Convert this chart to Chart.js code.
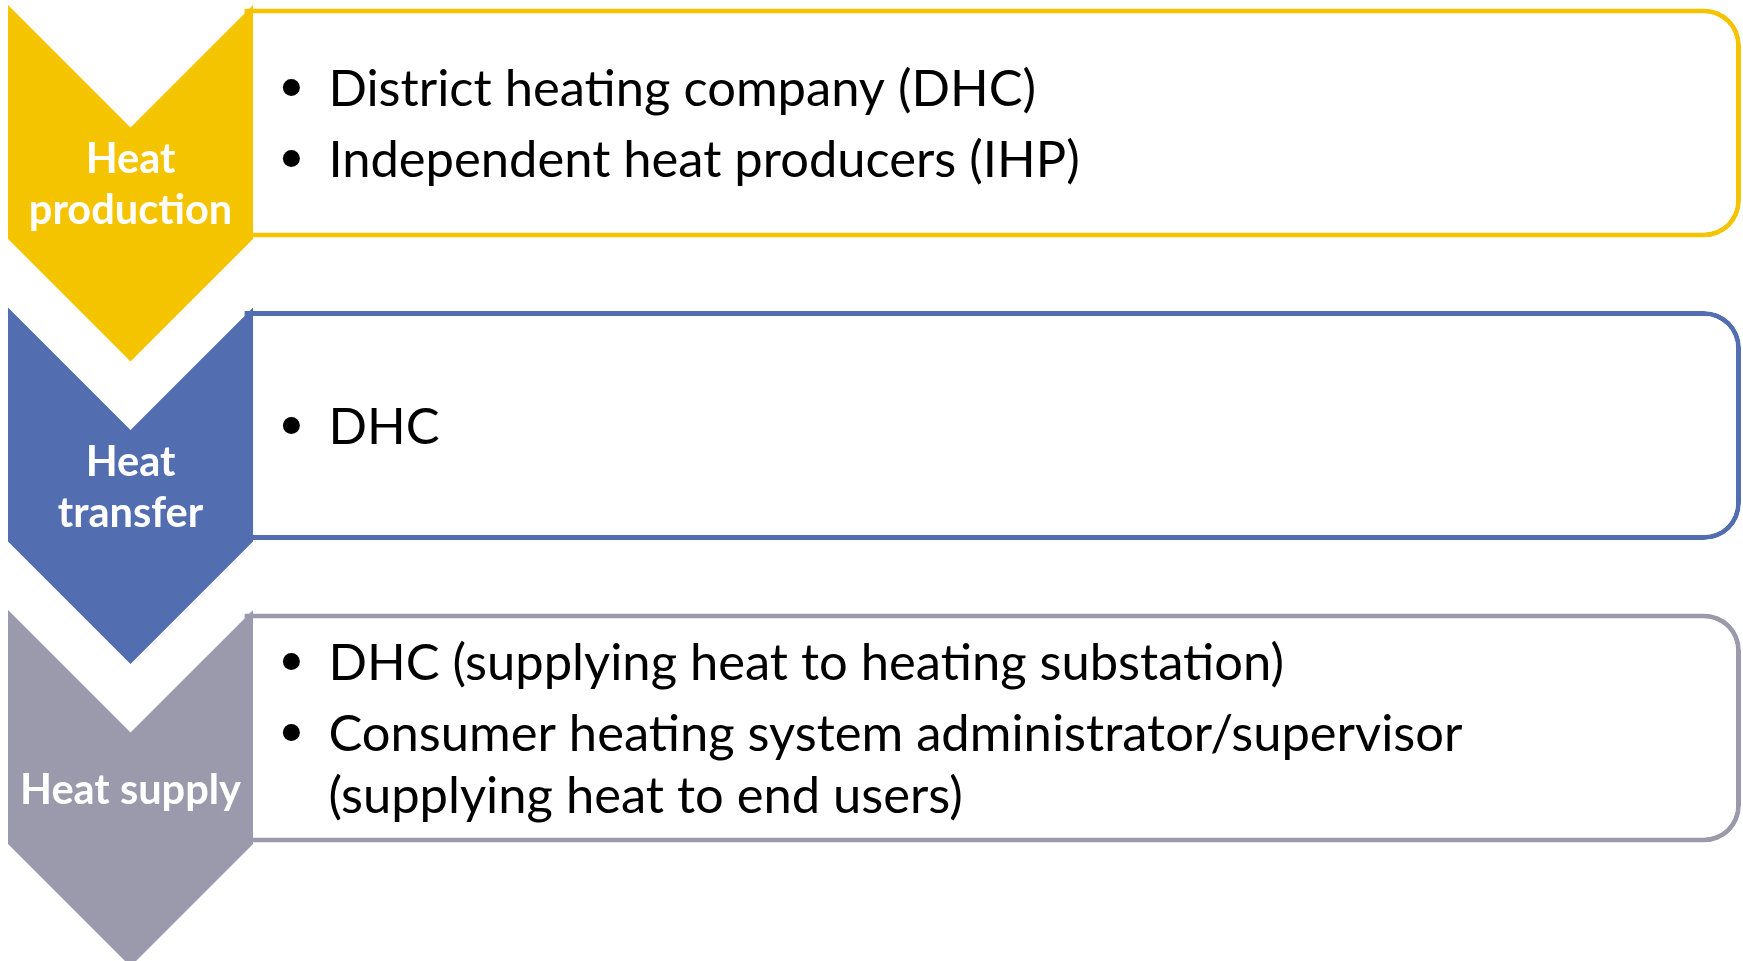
<!DOCTYPE html>
<html>
<head>
<meta charset="utf-8">
<script src="https://cdn.jsdelivr.net/npm/chart.js@4.4.1/dist/chart.umd.min.js"></script>
<style>
  html, body { margin: 0; padding: 0; background: #fff; }
  #wrap { width: 1743px; height: 961px; position: relative; }
</style>
</head>
<body>
<div id="wrap"><canvas id="flowChart"></canvas></div>
<script>
// stages of the heat chain, top to bottom
var stages = ['Heat production', 'Heat transfer', 'Heat supply'];
var stageLabelLines = [['Heat', 'production'], ['Heat', 'transfer'], ['Heat supply']];
var stageColors = ['#F5C400', '#536EB0', '#9A9AAC'];

// actors per stage (each item may wrap on several lines)
var actors = [
    [['District heating company (DHC)'], ['Independent heat producers (IHP)']],
    [['DHC']],
    [['DHC (supplying heat to heating substation)'],
     ['Consumer heating system administrator/supervisor', '(supplying heat to end users)']]
];

// layout (x runs 0..1 across the chart area, y is the stage index)
var CHEVRON_END = 0.1414;   // chevron column share of the width
var ROW_PX = 302.5;         // distance between stage rows
var FIRST_ROW_PX = 123;
var Y_MIN = -FIRST_ROW_PX / ROW_PX;
var Y_MAX = (961 - FIRST_ROW_PX) / ROW_PX;

function fitFont(ctx, weight, family, sample, targetW) {
    ctx.font = weight + ' 100px ' + family;
    var w = ctx.measureText(sample).width;
    return 100 * targetW / w;
}

function forceRange(scale) {
    scale.min = Y_MIN;
    scale.max = Y_MAX;
}

var diagramPlugin = {
    id: 'diagram',
    afterDatasetsDraw: function (chart) {
        var ctx = chart.ctx;
        var xs = chart.scales.x;
        var ys = chart.scales.y;
        var boxes = chart.getDatasetMeta(0).data;

        var left = xs.getPixelForValue(0);
        var right = xs.getPixelForValue(CHEVRON_END);
        var half = (right - left) / 2;
        var cx = left + half;

        var labelSize = fitFont(ctx, 'bold', 'Lato', 'Heat supply', 221);
        var bodySize = fitFont(ctx, 'normal', 'Lato', 'District heating company (DHC)', 708);

        ctx.save();
        stages.forEach(function (stage, i) {
            var r = ys.getPixelForValue(i);
            var top = r - 118;
            var bottom = r + 116;

            // chevron
            ctx.beginPath();
            ctx.moveTo(left, top);
            ctx.lineTo(cx, top + half);
            ctx.lineTo(right, top);
            ctx.lineTo(right, bottom);
            ctx.lineTo(cx, bottom + half);
            ctx.lineTo(left, bottom);
            ctx.closePath();
            ctx.fillStyle = stageColors[i];
            ctx.fill();

            // stage name inside chevron
            ctx.font = 'bold ' + labelSize + 'px Lato';
            ctx.fillStyle = '#ffffff';
            ctx.textAlign = 'center';
            ctx.textBaseline = 'alphabetic';
            var capL = ctx.measureText('H').actualBoundingBoxAscent;
            var lines = stageLabelLines[i];
            var lh = 51;
            var mid = ((top + half) + bottom) / 2;
            lines.forEach(function (t, k) {
                var y = mid + (k - (lines.length - 1) / 2) * lh;
                ctx.fillText(t, cx, y + capL / 2);
            });

            // bullet list in the box
            var box = boxes[i];
            ctx.font = bodySize + 'px Lato';
            ctx.fillStyle = '#000000';
            ctx.textAlign = 'left';
            var capB = ctx.measureText('H').actualBoundingBoxAscent;
            var rows = [];
            var y = 0;
            actors[i].forEach(function (item, j) {
                if (j > 0) y += 71;
                item.forEach(function (t, k) {
                    if (k > 0) y += 62;
                    rows.push({ y: y, t: t, bullet: k === 0 });
                });
            });
            var off = r - y / 2;
            var textX = box.base + 84;
            rows.forEach(function (ln) {
                var yy = ln.y + off;
                if (ln.bullet) {
                    ctx.beginPath();
                    ctx.arc(textX - 37, yy, 8.5, 0, Math.PI * 2);
                    ctx.fill();
                }
                ctx.fillText(ln.t, textX, yy + capB / 2);
            });
        });
        ctx.restore();
    }
};

var ctx = document.getElementById('flowChart').getContext('2d');
var grafico = new Chart(ctx, {
    type: 'bar',
    data: {
        datasets: [{
            label: 'Actors',
            data: stages.map(function (s, i) { return { y: i, x: [CHEVRON_END - 0.005, 1] }; }),
            backgroundColor: '#ffffff',
            borderColor: stageColors,
            borderWidth: 5,
            borderSkipped: false,
            borderRadius: { topLeft: 0, bottomLeft: 0, topRight: 37, bottomRight: 37 },
            barThickness: 229,
            inflateAmount: 0,
            clip: false
        }]
    },
    options: {
        indexAxis: 'y',
        responsive: true,
        maintainAspectRatio: false,
        animation: false,
        layout: { padding: { left: 8, right: 2, top: 0, bottom: 0 } },
        plugins: { legend: { display: false }, tooltip: { enabled: false } },
        scales: {
            x: { type: 'linear', min: 0, max: 1, offset: false, display: false },
            y: {
                type: 'linear',
                reverse: true,
                offset: false,
                bounds: 'data',
                min: Y_MIN,
                max: Y_MAX,
                afterDataLimits: forceRange,
                afterBuildTicks: forceRange,
                display: false
            }
        }
    },
    plugins: [diagramPlugin]
});
</script>
</body>
</html>
